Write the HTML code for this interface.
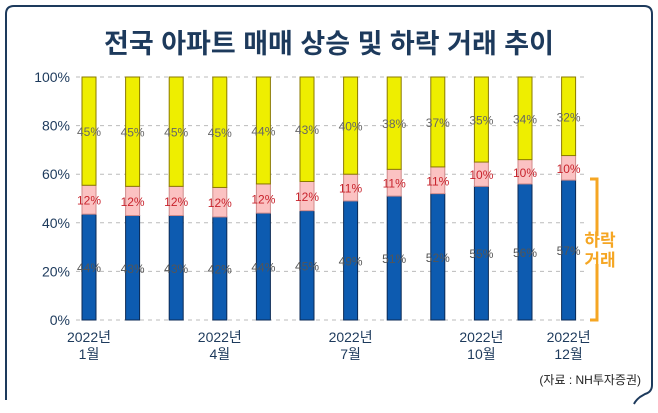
<!DOCTYPE html>
<html><head><meta charset="utf-8"><style>
body{margin:0;background:#fff;width:658px;height:408px;overflow:hidden;font-family:"Liberation Sans","Noto Sans CJK KR",sans-serif}
</style></head><body>
<svg width="658" height="408" id="svg" xmlns="http://www.w3.org/2000/svg">
<path d="M14 6 H644 Q652 6 652 14 V385 Q652 392 645 394 L640 397 Q636 400 634 404" fill="none" stroke="#1d3a5c" stroke-width="2"/>
<path d="M14 6 Q6 6 6 14 V400" fill="none" stroke="#1d3a5c" stroke-width="2"/>
<text x="329" y="53" text-anchor="middle" font-size="27" font-weight="bold" fill="#1d3a5c">전국 아파트 매매 상승 및 하락 거래 추이</text>
<g id="plot"></g>
<text x="641" y="384" text-anchor="end" font-size="12" fill="#222">(자료 : NH투자증권)</text>
<path d="M590 179 H597 V236 M597 264 V320 H590" fill="none" stroke="#f5a623" stroke-width="3"/>
<text x="600" y="246" text-anchor="middle" font-size="17" font-weight="bold" fill="#f5a623">하락</text>
<text x="600" y="266" text-anchor="middle" font-size="17" font-weight="bold" fill="#f5a623">거래</text>
</svg>
<script>
const months=["1월","2월","3월","4월","5월","6월","7월","8월","9월","10월","11월","12월"];
const labeledMonths=[0,3,6,9,11];
const fallVals=[44,43,43,42,44,45,49,51,52,55,56,57];
const flatVals=[12,12,12,12,12,12,11,11,11,10,10,10];
const riseVals=[45,45,45,45,44,43,40,38,37,35,34,32];
const yTicks=[0,20,40,60,80,100];
const NS="http://www.w3.org/2000/svg";
const g=document.getElementById('plot');
const y0=320,y1=77,xs=89,step=43.6,bw=14;
const yS=v=>y0-(y0-y1)*v/100;
const xS=i=>xs+i*step;
function mk(t,a){const e=document.createElementNS(NS,t);for(const k in a)e.setAttribute(k,a[k]);g.appendChild(e);return e;}
for(const t of yTicks){
 const l=mk('line',{x1:76,x2:585,y1:yS(t),y2:yS(t),stroke:'#bbb','stroke-dasharray':'4 4'});
 
 
 const tx=mk('text',{x:70,y:yS(t)+5,'text-anchor':'end','font-size':14,fill:'#1d3a5c'});tx.textContent=t+'%';
 
 
}
months.forEach((m,i)=>{
 const tot=fallVals[i]+flatVals[i]+riseVals[i];
 const a=fallVals[i]/tot*100,b=flatVals[i]/tot*100;
 const segs=[[0,a,'#0d5bb0','#0b2a55',fallVals[i],'#555','fall'],[a,a+b,'#fbc2c2','#d08a8a',flatVals[i],'#c8232c','flat'],[a+b,100,'#eeee00','#8a7a00',riseVals[i],'#666','rise']];
 for(const s of segs){
  const r=mk('rect',{x:xS(i)-bw/2,y:yS(s[1]),width:bw,height:yS(s[0])-yS(s[1]),fill:s[2],stroke:s[3],'stroke-width':1});
  
  
  const t=mk('text',{x:xS(i),y:yS((s[0]+s[1])/2)+5,'text-anchor':'middle','font-size':12,fill:s[5]});t.textContent=s[4]+'%';
  
  
 }
 if(labeledMonths.includes(i)){
  const t1=mk('text',{x:xS(i),y:342,'text-anchor':'middle','font-size':14,fill:'#1d3a5c'});t1.textContent='2022년';
  
  
  const t2=mk('text',{x:xS(i),y:359,'text-anchor':'middle','font-size':14,fill:'#1d3a5c'});t2.textContent=m;
  
  
 }
});
</script>
</body></html>
